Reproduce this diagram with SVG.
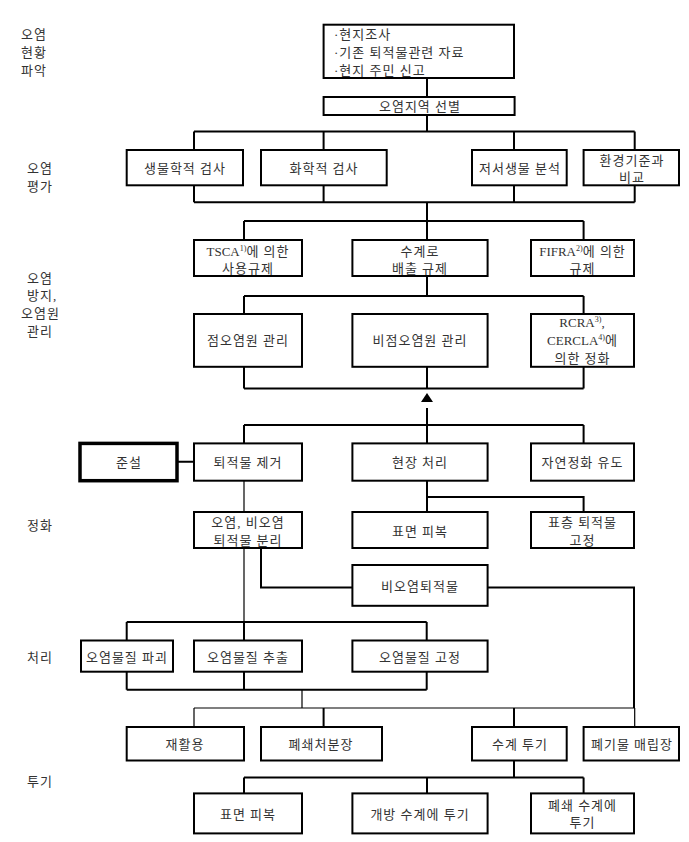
<svg xmlns="http://www.w3.org/2000/svg" width="689" height="842" viewBox="0 0 689 842">
<style>
.bx{fill:#fff;stroke:#000;stroke-width:2}
.bxk{fill:#fff;stroke:#000;stroke-width:3.5}
.c{fill:none;stroke:#000;stroke-width:2}
.t{fill:none;stroke:#000;stroke-width:1.2}
text{font-family:"Liberation Serif","Noto Sans CJK KR",serif;font-size:13px;fill:#333;letter-spacing:1px}
.m{text-anchor:middle}
.la{letter-spacing:0}
.sup{font-size:8px;letter-spacing:0}
</style>
<rect width="689" height="842" fill="#fff"/>
<g id="labels">
<text x="21" y="39">오염</text><text x="21" y="57">현황</text><text x="21" y="75">파악</text>
<text x="27" y="173">오염</text><text x="27" y="191">평가</text>
<text x="27" y="283">오염</text><text x="27" y="300">방지,</text><text x="21" y="318">오염원</text><text x="27" y="336">관리</text>
<text x="27" y="530">정화</text>
<text x="27" y="662">처리</text>
<text x="27" y="786">투기</text>
</g>
<g id="connectors">
<path class="c" d="M427 78V97M427 115V131.5M194 131.5H634.7M194 131.5V150M323.6 131.5V150M514 131.5V150M634.7 131.5V150"/>
<path class="c" d="M194 185V202.2M323.6 185V202.2M514 185V202.2M634.7 185V202.2M194 202.2H634.7M427 202.2V221"/>
<path class="c" d="M244 221H583.6M244 221V240M427 221V240M583.6 221V240M427 276V296M244 296H583.6M244 296V314M583.6 296V314"/>
<path class="c" d="M244 367V388.5M427 367V388.5M583.6 367V388.5M244 388.5H583.6"/>
<path d="M427 393L433 402H421Z" fill="#000"/>
<path class="c" d="M427 408V425M244 425H583.6M244 425V443M427 425V443M583.6 425V443M177 461.7H194"/>
<path class="t" d="M244 481V512"/>
<path class="c" d="M427 481V512M427 497H583.6V512"/>
<path class="t" d="M244 548V622"/>
<path class="c" d="M261 548V587.5H352M488 587.5H634V708"/>
<path class="c" d="M126.7 622H426.7M126.7 622V640.5M244 622V640.5M426.7 622V640.5M126.7 672V689.7M244 672V689.7M426.7 672V689.7M126.7 689.7H426.7"/>
<path class="t" d="M302 689.7V708M194 708H634.7M194 708V727M634.7 708V727"/>
<path class="c" d="M323.6 708V727M514 708V727"/>
<path class="c" d="M514 760.5V777.5M244 777.5H583.6M244 777.5V793.4M427 777.5V793.4M583.6 777.5V793.4"/>
</g>
<g id="n-survey"><rect class="bx" x="323.6" y="24.7" width="190.4" height="53.3"/>
<text x="334" y="39">·현지조사</text><text x="334" y="57">·기존 퇴적물관련 자료</text><text x="334" y="75">·현지 주민 신고</text></g>
<g id="n-select"><rect class="bx" x="323.6" y="97" width="191" height="18"/><text class="m" x="420" y="110.5">오염지역 선별</text></g>
<g id="n-bio"><rect class="bx" x="126.7" y="150" width="116.3" height="35.3"/><text class="m" x="185" y="173">생물학적 검사</text></g>
<g id="n-chem"><rect class="bx" x="261" y="150" width="125.7" height="35.3"/><text class="m" x="324" y="173">화학적 검사</text></g>
<g id="n-benthic"><rect class="bx" x="472" y="150" width="94.7" height="35.3"/><text class="m" x="520" y="173">저서생물 분석</text></g>
<g id="n-std"><rect class="bx" x="583.6" y="150" width="95.4" height="35.3"/><text class="m" x="632" y="165">환경기준과</text><text class="m" x="632" y="182">비교</text></g>
<g id="n-tsca"><rect class="bx" x="194" y="240" width="108" height="36"/><text class="m" x="248" y="255.5"><tspan class="la">TSCA</tspan><tspan class="sup" dy="-5">1)</tspan><tspan dy="5">에 의한</tspan></text><text class="m" x="248" y="272.5">사용규제</text></g>
<g id="n-discharge"><rect class="bx" x="352.4" y="240" width="135.2" height="36"/><text class="m" x="420" y="255.5">수계로</text><text class="m" x="420" y="272.5">배출 규제</text></g>
<g id="n-fifra"><rect class="bx" x="531" y="240" width="103" height="36"/><text class="m" x="582.5" y="255.5"><tspan class="la">FIFRA</tspan><tspan class="sup" dy="-5">2)</tspan><tspan dy="5">에 의한</tspan></text><text class="m" x="582.5" y="272.5">규제</text></g>
<g id="n-point"><rect class="bx" x="194" y="314" width="108" height="52.8"/><text class="m" x="248" y="345">점오염원 관리</text></g>
<g id="n-nonpoint"><rect class="bx" x="352.4" y="314" width="135.2" height="52.8"/><text class="m" x="420" y="345">비점오염원 관리</text></g>
<g id="n-rcra"><rect class="bx" x="531" y="314" width="103" height="52.8"/><text class="m" x="582.5" y="326.5"><tspan class="la">RCRA</tspan><tspan class="sup" dy="-5">3)</tspan><tspan dy="5">,</tspan></text><text class="m" x="582.5" y="345"><tspan class="la">CERCLA</tspan><tspan class="sup" dy="-5">4)</tspan><tspan dy="5">에</tspan></text><text class="m" x="582.5" y="363">의한 정화</text></g>
<g id="n-dredge"><rect class="bxk" x="80" y="443.4" width="97" height="37.3"/><text class="m" x="129" y="466.5">준설</text></g>
<g id="n-remove"><rect class="bx" x="194" y="443.4" width="108" height="37.3"/><text class="m" x="248" y="466.5">퇴적물 제거</text></g>
<g id="n-insitu"><rect class="bx" x="352.4" y="443.4" width="135.2" height="37.3"/><text class="m" x="420" y="466.5">현장 처리</text></g>
<g id="n-natural"><rect class="bx" x="531" y="443.4" width="103" height="37.3"/><text class="m" x="582.5" y="466.5">자연정화 유도</text></g>
<g id="n-separate"><rect class="bx" x="194" y="512" width="108" height="36"/><text class="m" x="248" y="527">오염, 비오염</text><text class="m" x="248" y="545">퇴적물 분리</text></g>
<g id="n-cap"><rect class="bx" x="352.4" y="512" width="135.2" height="36"/><text class="m" x="420" y="535.5">표면 피복</text></g>
<g id="n-fix"><rect class="bx" x="531" y="512" width="103" height="36"/><text class="m" x="582.5" y="527">표층 퇴적물</text><text class="m" x="582.5" y="545">고정</text></g>
<g id="n-clean"><rect class="bx" x="352.4" y="565" width="135.2" height="40.8"/><text class="m" x="420" y="591">비오염퇴적물</text></g>
<g id="n-destroy"><rect class="bx" x="81" y="640.5" width="92" height="31.2"/><text class="m" x="127" y="662">오염물질 파괴</text></g>
<g id="n-extract"><rect class="bx" x="194" y="640.5" width="108" height="31.2"/><text class="m" x="248" y="662">오염물질 추출</text></g>
<g id="n-stabilize"><rect class="bx" x="352.4" y="640.5" width="135.2" height="31.2"/><text class="m" x="420" y="662">오염물질 고정</text></g>
<g id="n-recycle"><rect class="bx" x="126.7" y="727" width="117.3" height="33.5"/><text class="m" x="185" y="748.5">재활용</text></g>
<g id="n-closed"><rect class="bx" x="261" y="727" width="121" height="33.5"/><text class="m" x="321" y="748.5">폐쇄처분장</text></g>
<g id="n-water"><rect class="bx" x="472" y="727" width="94.7" height="33.5"/><text class="m" x="520" y="748.5">수계 투기</text></g>
<g id="n-landfill"><rect class="bx" x="583.6" y="727" width="95.4" height="33.5"/><text class="m" x="632" y="748.5">폐기물 매립장</text></g>
<g id="n-cap2"><rect class="bx" x="194" y="793.4" width="108" height="40"/><text class="m" x="248" y="819">표면 피복</text></g>
<g id="n-open"><rect class="bx" x="352.4" y="793.4" width="135.2" height="40"/><text class="m" x="420" y="819">개방 수계에 투기</text></g>
<g id="n-closedwater"><rect class="bx" x="531" y="793.4" width="103" height="40"/><text class="m" x="582.5" y="810">폐쇄 수계에</text><text class="m" x="582.5" y="827">투기</text></g>
</svg>
